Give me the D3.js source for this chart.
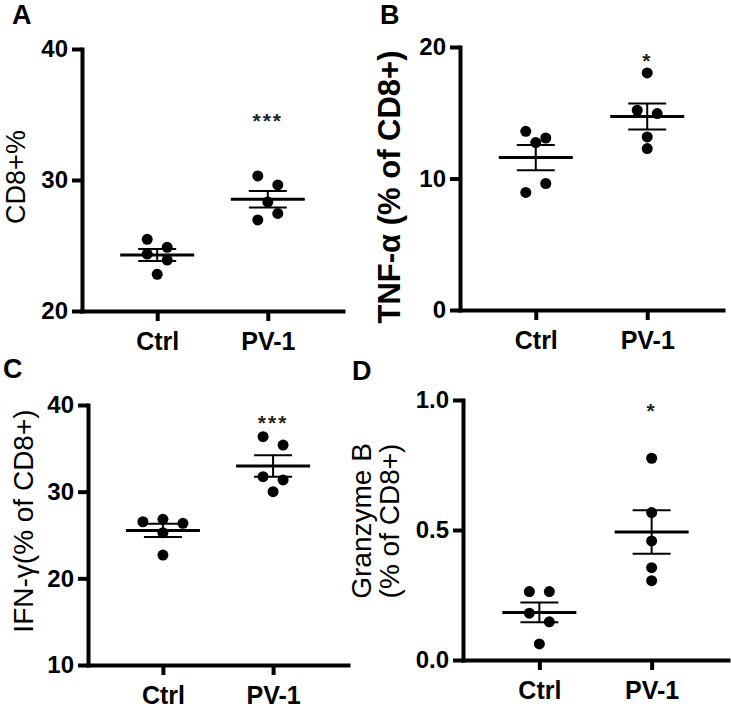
<!DOCTYPE html>
<html>
<head>
<meta charset="utf-8">
<script src="https://cdn.jsdelivr.net/npm/d3@7"></script>
<style>
  body { margin: 0; background: #fff; }
  text { font-family: "Liberation Sans", Arial, sans-serif; }
</style>
</head>
<body>
<svg id="chart" width="731" height="708"></svg>
<script>
// data (5 mice per group)
const groups = ["Ctrl", "PV-1"];

const cd8Ctrl = [25.47, 24.86, 24.35, 23.89, 22.8];
const cd8Pv1 = [30.31, 29.62, 28.32, 26.95, 27.45];

const tnfCtrl = [13.59, 13.08, 12.73, 8.94, 9.62];
const tnfPv1 = [18.03, 15.19, 14.94, 13.16, 12.28];

const ifnCtrl = [26.53, 26.81, 26.35, 25.26, 22.69];
const ifnPv1 = [36.34, 35.38, 31.73, 31.35, 30.0];

const gzbCtrl = [0.263, 0.263, 0.18, 0.147, 0.062];
const gzbPv1 = [0.776, 0.567, 0.458, 0.355, 0.305];

const yDomains = [[20, 40], [0, 20], [10, 40], [0, 1]];
const yTicks = [[20, 30, 40], [0, 10, 20], [10, 20, 30, 40], [0, 0.5, 1]];
const yTitles = [["CD8+%"], ["TNF-α (% of CD8+)"], ["IFN-γ(% of CD8+)"], ["Granzyme B", "(% of CD8+)"]];
const panelLetters = ["A", "B", "C", "D"];
const sigLabels = ["***", "*", "***", "*"];
const sigLevels = [34.9, 19.3, 38.5, 0.977];

const panelData = [
    [cd8Ctrl, cd8Pv1],
    [tnfCtrl, tnfPv1],
    [ifnCtrl, ifnPv1],
    [gzbCtrl, gzbPv1]
];

// layout of the 2x2 grid (pixels)
const panels = [
    { left: 82, right: 343, top: 49, bottom: 311, letterX: 12, letterY: 24, titleX: 25, titleY: 177, titleBold: false, titleSize: 27 },
    { left: 460, right: 723, top: 47, bottom: 310, letterX: 380, letterY: 24, titleX: 400, titleY: 187, titleBold: true, titleSize: 31 },
    { left: 88, right: 348, top: 405, bottom: 665, letterX: 3, letterY: 378, titleX: 33, titleY: 521, titleBold: false, titleSize: 28 },
    { left: 463, right: 728, top: 400, bottom: 660, letterX: 352, letterY: 380, titleX: 371, titleY: 521, titleBold: false, titleSize: 28 }
];
const tickFormats = [d3.format("d"), d3.format("d"), d3.format("d"), d3.format(".1f")];

const svg = d3.select("#chart");
const dotR = 5.5;

// GraphPad-style spreading: points close in value share a row and are spread sideways
function spread(values, y) {
    const order = d3.range(values.length).sort((a, b) => values[b] - values[a]);
    const offsets = new Array(values.length).fill(0);
    let row = [];
    const flush = () => {
        row.sort((a, b) => a - b).forEach((idx, k) => {
            offsets[idx] = (k - (row.length - 1) / 2) * 20;
        });
        row = [];
    };
    order.forEach(idx => {
        if (row.length && (y(values[idx]) - y(values[row[0]]) >= 11 || row.length === 3)) flush();
        row.push(idx);
    });
    flush();
    return offsets;
}

panels.forEach((p, i) => {
    const g = svg.append("g");

    const y = d3.scaleLinear().domain(yDomains[i]).range([p.bottom, p.top]);
    const x = d3.scalePoint().domain(groups).range([p.left, p.right]).padding(0.68);

    // y axis
    const yAxis = g.append("g")
        .attr("transform", `translate(${p.left},0)`)
        .call(d3.axisLeft(y).tickValues(yTicks[i]).tickFormat(tickFormats[i])
            .tickSize(10).tickSizeOuter(0).tickPadding(4));

    // x axis
    const xAxis = g.append("g")
        .attr("transform", `translate(0,${p.bottom})`)
        .call(d3.axisBottom(x).tickSize(10).tickSizeOuter(0).tickPadding(11));

    [yAxis, xAxis].forEach(a => {
        a.select(".domain").attr("stroke", "#000").attr("stroke-width", 4).attr("stroke-linecap", "square");
        a.selectAll(".tick line").attr("stroke", "#000").attr("stroke-width", 4);
        a.selectAll(".tick text")
            .attr("fill", "#000")
            .style("font-weight", "bold");
    });
    yAxis.selectAll(".tick text").style("font-size", "24px");
    xAxis.selectAll(".tick text").style("font-size", "25px");

    // dots + mean +/- SEM
    groups.forEach((grp, j) => {
        const vals = panelData[i][j];
        const offs = spread(vals, y);
        const cx = x(grp);

        g.append("g")
            .selectAll("circle")
            .data(vals)
            .enter().append("circle")
            .attr("cx", (d, k) => cx + offs[k])
            .attr("cy", d => y(d))
            .attr("r", dotR)
            .attr("fill", "#000");

        const m = d3.mean(vals);
        const sem = d3.deviation(vals) / Math.sqrt(vals.length);

        g.append("line")
            .attr("x1", cx - 37).attr("x2", cx + 37)
            .attr("y1", y(m)).attr("y2", y(m))
            .attr("stroke", "#000").attr("stroke-width", 3);

        g.append("line")
            .attr("x1", cx).attr("x2", cx)
            .attr("y1", y(m + sem)).attr("y2", y(m - sem))
            .attr("stroke", "#000").attr("stroke-width", 2);

        [m + sem, m - sem].forEach(v => {
            g.append("line")
                .attr("x1", cx - 19).attr("x2", cx + 19)
                .attr("y1", y(v)).attr("y2", y(v))
                .attr("stroke", "#000").attr("stroke-width", 2);
        });
    });

    // significance stars above PV-1
    g.append("text")
        .attr("x", x("PV-1"))
        .attr("y", y(sigLevels[i]))
        .attr("dy", "0.58em")
        .attr("text-anchor", "middle")
        .style("font-size", "21px")
        .style("font-weight", "bold")
        .style("letter-spacing", "2px")
        .attr("fill", "#222")
        .text(sigLabels[i]);

    // y axis title (one or two lines)
    const lines = yTitles[i];
    lines.forEach((line, k) => {
        g.append("text")
            .attr("transform", `translate(${p.titleX + k * 28},${p.titleY}) rotate(-90)`)
            .attr("text-anchor", "middle")
            .style("font-size", p.titleSize + "px")
            .style("font-weight", p.titleBold ? "bold" : "normal")
            .attr("fill", "#000")
            .text(line);
    });

    // panel letter
    g.append("text")
        .attr("x", p.letterX)
        .attr("y", p.letterY)
        .style("font-size", "27px")
        .style("font-weight", "bold")
        .attr("fill", "#000")
        .text(panelLetters[i]);
});
</script>
</body>
</html>
